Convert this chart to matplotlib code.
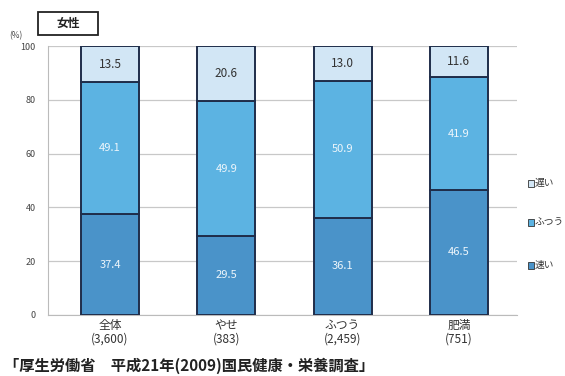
import matplotlib
matplotlib.use("Agg")
import matplotlib.pyplot as plt
from matplotlib.patches import Rectangle

plt.rcParams['font.family'] = ['Noto Sans CJK JP', 'DejaVu Sans']

categories = ["全体", "やせ", "ふつう", "肥満"]
counts = ["(3,600)", "(383)", "(2,459)", "(751)"]
fast = [37.4, 29.5, 36.1, 46.5]     # 速い
normal = [49.1, 49.9, 50.9, 41.9]   # ふつう
slow = [13.5, 20.6, 13.0, 11.6]     # 遅い
legend_labels = ["遅い", "ふつう", "速い"]
yticks = [0, 20, 40, 60, 80, 100]

c_fast = "#4a93c9"
c_normal = "#5cb3e2"
c_slow = "#d2e6f5"
edge = "#1f2d4a"

W, H = 565, 376
fig = plt.figure(figsize=(W / 100, H / 100), dpi=100)
ax = fig.add_axes([48 / W, 1 - 315 / H, (517 - 48) / W, (315 - 46) / H])

x = list(range(len(categories)))
bw = 0.5
ax.bar(x, fast, bw, color=c_fast, edgecolor=edge, linewidth=1.4, zorder=3)
ax.bar(x, normal, bw, bottom=fast, color=c_normal, edgecolor=edge, linewidth=1.4, zorder=3)
bot2 = [a + b for a, b in zip(fast, normal)]
ax.bar(x, slow, bw, bottom=bot2, color=c_slow, edgecolor=edge, linewidth=1.4, zorder=3)

for i in x:
    ax.text(i, fast[i] / 2, f"{fast[i]:.1f}", ha="center", va="center",
            color="#eef6fb", fontsize=8, zorder=4)
    ax.text(i, fast[i] + normal[i] / 2, f"{normal[i]:.1f}", ha="center", va="center",
            color="#eef6fb", fontsize=8, zorder=4)
    ax.text(i, bot2[i] + slow[i] / 2, f"{slow[i]:.1f}", ha="center", va="center",
            color="#333333", fontsize=8.5, zorder=4)

ax.set_xlim(-0.534, 3.5)
ax.set_ylim(0, 100)
ax.set_yticks(yticks)
ax.set_yticklabels([str(t) for t in yticks], fontsize=6.5, color="#444444")
ax.tick_params(axis="y", length=0, pad=9)
ax.set_xticks(x)
ax.set_xticklabels([f"{c}\n{n}" for c, n in zip(categories, counts)],
                   fontsize=8.5, color="#333333", linespacing=1.05)
ax.tick_params(axis="x", length=0, pad=3)
ax.grid(axis="y", color="#c8c8c8", linewidth=0.9, zorder=0)
for s in ["top", "right"]:
    ax.spines[s].set_visible(False)
ax.spines["left"].set_color("#bbbbbb")
ax.spines["bottom"].set_color("#bbbbbb")

# series key at the right
key = [(183, c_slow, legend_labels[0]), (222, c_normal, legend_labels[1]),
       (265, c_fast, legend_labels[2])]
for yp, col, lab in key:
    fig.patches.append(Rectangle((528 / W, 1 - (yp + 3.5) / H), 6 / W, 7 / H,
                                 transform=fig.transFigure, facecolor=col,
                                 edgecolor="#333333", linewidth=0.6))
    fig.text(535 / W, 1 - yp / H, lab, fontsize=7, va="center", ha="left",
             color="#333333")

# panel title box
fig.patches.append(Rectangle((38 / W, 1 - 35 / H), 60 / W, 23 / H,
                             transform=fig.transFigure, facecolor="white",
                             edgecolor="#222222", linewidth=1.3))
fig.text(68 / W, 1 - 23.5 / H, "女性", fontsize=8.5, ha="center", va="center",
         color="#222222", fontweight="bold")
fig.text(9 / W, 1 - 36 / H, "(%)", fontsize=6, ha="left", va="center", color="#444444")

fig.text(4 / W, 1 - 366 / H, "「厚生労働省　平成21年(2009)国民健康・栄養調査」",
         fontsize=11, ha="left", va="center", color="#222222", fontweight="bold")

fig.savefig("out.png", dpi=100, facecolor="white")
